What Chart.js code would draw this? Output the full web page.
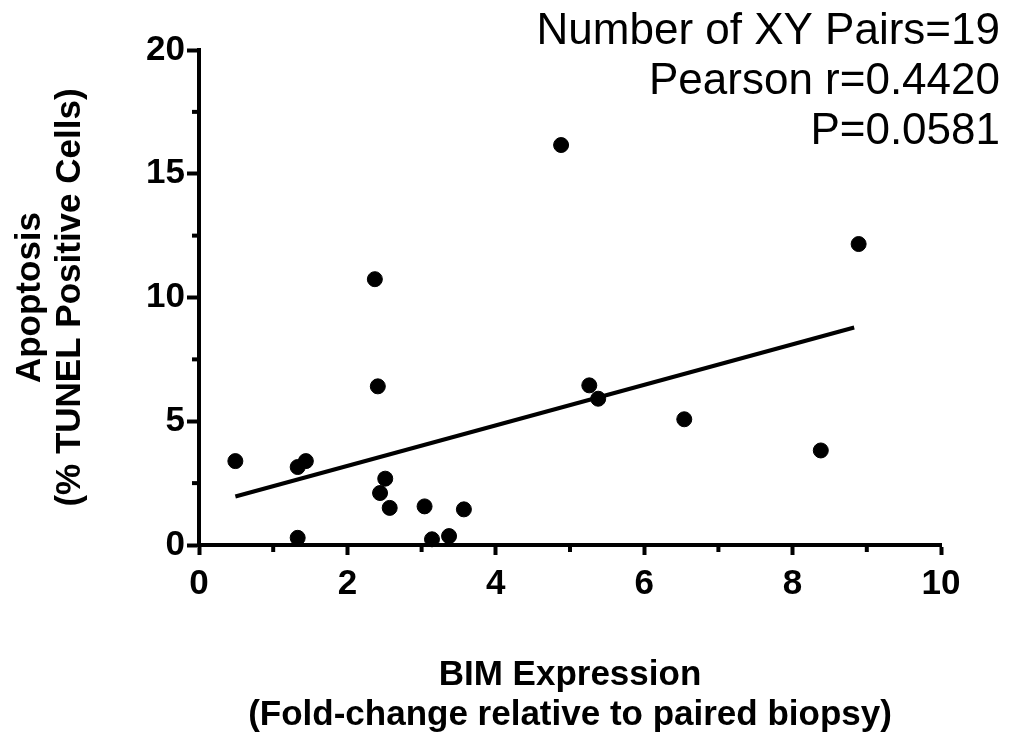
<!DOCTYPE html>
<html>
<head>
<meta charset="utf-8">
<script src="https://cdn.jsdelivr.net/npm/chart.js@4"></script>
<style>
  body { margin: 0; background: #fff; }
  canvas { display: block; }
</style>
</head>
<body>
<canvas id="myChart" width="1012" height="737"></canvas>
<script>
// BIM expression (fold change) vs apoptosis (% TUNEL positive cells)
var bimValues = [0.49, 1.33, 1.44, 1.33, 2.51, 2.44, 2.57, 3.04, 3.14, 3.37, 3.57, 4.88, 5.26, 5.38, 6.54, 8.89, 2.37, 2.41, 8.38];
var tunelValues = [3.39, 3.15, 3.39, 0.29, 2.68, 2.10, 1.50, 1.56, 0.23, 0.36, 1.44, 16.16, 6.45, 5.91, 5.08, 12.16, 10.74, 6.41, 3.82];

// ends of the fitted line
var fitX = [0.49, 8.83];
var fitY = [1.96, 8.79];

var xTicks = [0, 2, 4, 6, 8, 10];
var yTicks = [0, 5, 10, 15, 20];
var xMinor = [1, 3, 5, 7, 9];
var yMinor = [2.5, 7.5, 12.5, 17.5];

var statsText = ['Number of XY Pairs=19', 'Pearson r=0.4420', 'P=0.0581'];

var fontFam = 'Arial, "Liberation Sans", sans-serif';

var points = bimValues.map(function (x, i) {
    return { x: x, y: tunelValues[i] };
});
var fitLine = fitX.map(function (x, i) {
    return { x: x, y: fitY[i] };
});

// short ticks between the labelled ones, plus the stats text in the corner
var extras = {
    id: 'extras',
    afterDraw: function (chart) {
        var ctx = chart.ctx;
        var xs = chart.scales.x, ys = chart.scales.y;
        ctx.save();
        ctx.strokeStyle = '#000';
        ctx.lineWidth = 4;
        xMinor.forEach(function (v) {
            var px = xs.getPixelForValue(v);
            ctx.beginPath();
            ctx.moveTo(px, xs.top);
            ctx.lineTo(px, xs.top + 7);
            ctx.stroke();
        });
        yMinor.forEach(function (v) {
            var py = ys.getPixelForValue(v);
            ctx.beginPath();
            ctx.moveTo(ys.right, py);
            ctx.lineTo(ys.right - 7, py);
            ctx.stroke();
        });
        ctx.fillStyle = '#000';
        ctx.font = '44px ' + fontFam;
        ctx.textAlign = 'right';
        ctx.textBaseline = 'alphabetic';
        statsText.forEach(function (t, i) {
            ctx.fillText(t, 1000, 44 + i * 50);
        });
        ctx.restore();
    }
};

var ctx = document.getElementById('myChart').getContext('2d');
var myChart = new Chart(ctx, {
    type: 'scatter',
    data: {
        datasets: [{
            label: 'Samples',
            data: points,
            backgroundColor: '#000',
            borderColor: '#000',
            borderWidth: 1,
            pointRadius: 7.5,
            pointHoverRadius: 7.5,
            clip: false
        }, {
            label: 'Fit',
            data: fitLine,
            showLine: true,
            borderColor: '#000',
            borderWidth: 4,
            pointRadius: 0,
            fill: false
        }]
    },
    options: {
        responsive: false,
        animation: false,
        layout: { padding: { top: 50, right: 71, left: 0, bottom: 0 } },
        plugins: {
            legend: { display: false },
            tooltip: { enabled: false }
        },
        scales: {
            x: {
                type: 'linear',
                min: 0,
                max: 10,
                afterFit: function (s) { s.height = 192; },
                afterBuildTicks: function (s) {
                    s.ticks = xTicks.map(function (v) { return { value: v }; });
                },
                border: { color: '#000', width: 4 },
                grid: { drawOnChartArea: false, drawTicks: true, tickLength: 10, tickColor: '#000', tickWidth: 4 },
                ticks: { color: '#000', padding: 8, font: { family: fontFam, size: 35, weight: 'bold' } },
                title: {
                    display: true,
                    text: ['BIM Expression', '(Fold-change relative to paired biopsy)'],
                    color: '#000',
                    padding: { top: 0, bottom: 2 },
                    font: { family: fontFam, size: 35, weight: 'bold', lineHeight: 40 / 35 }
                }
            },
            y: {
                type: 'linear',
                min: 0,
                max: 20,
                afterFit: function (s) { s.width = 199; },
                afterBuildTicks: function (s) {
                    s.ticks = yTicks.map(function (v) { return { value: v }; });
                },
                border: { color: '#000', width: 4 },
                grid: { drawOnChartArea: false, drawTicks: true, tickLength: 12, tickColor: '#000', tickWidth: 4 },
                ticks: { color: '#000', padding: 2, font: { family: fontFam, size: 35, weight: 'bold' } },
                title: {
                    display: true,
                    text: ['Apoptosis', '(% TUNEL Positive Cells)'],
                    color: '#000',
                    padding: { top: 10, bottom: 0 },
                    font: { family: fontFam, size: 35, weight: 'bold', lineHeight: 40 / 35 }
                }
            }
        }
    },
    plugins: [extras]
});
</script>
</body>
</html>
